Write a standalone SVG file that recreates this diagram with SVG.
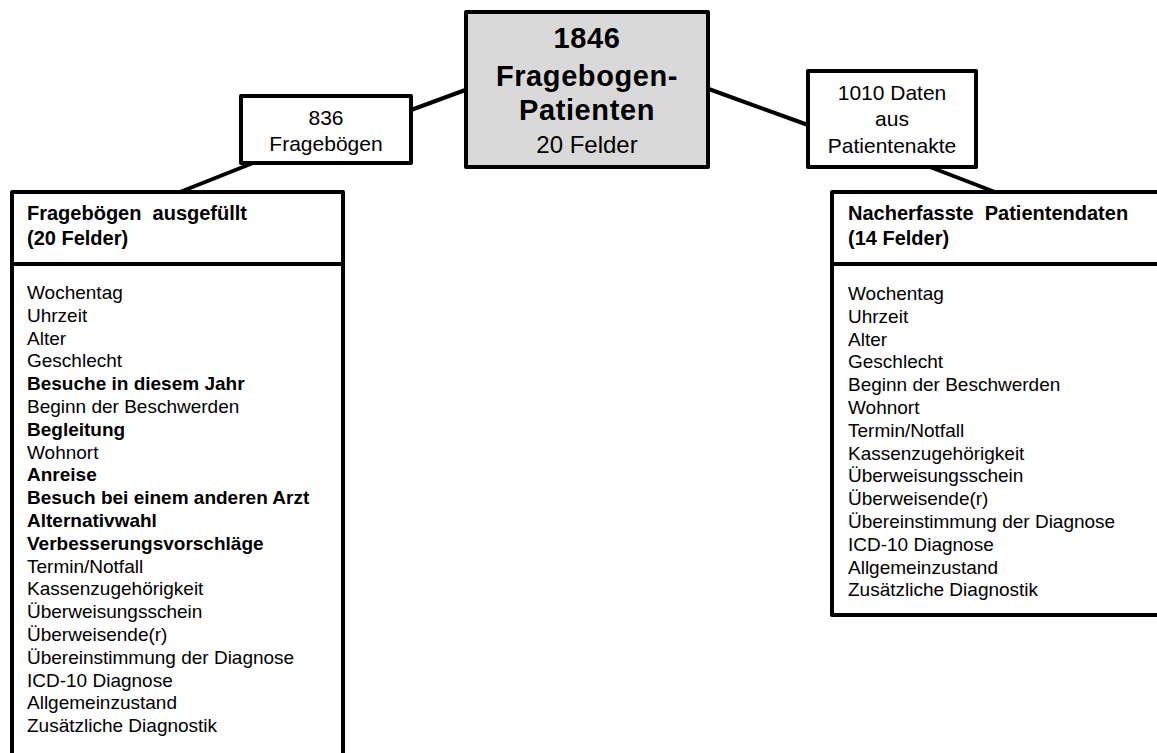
<svg xmlns="http://www.w3.org/2000/svg" width="1157" height="753" viewBox="0 0 1157 753">
<style>
.box{fill:#fff;stroke:#000;stroke-width:4;stroke-linejoin:round}
.grey{fill:#d9d9d9}
.conn line{stroke:#000;stroke-width:4;stroke-linecap:butt}
text{font-family:"Liberation Sans",Arial,sans-serif;fill:#000}
.c{text-anchor:middle}
.b{font-weight:bold}
.hd{font-size:20px;font-weight:bold}
.li{font-size:19px}
.sm{font-size:21px}
.big{font-size:29px;font-weight:bold;letter-spacing:0.6px}
</style>
<rect width="1157" height="753" fill="#fff"/>
<g id="connectors" class="conn">
<line x1="411" y1="110" x2="468" y2="89"/>
<line x1="253" y1="163" x2="180" y2="192"/>
<line x1="706" y1="88" x2="808" y2="125"/>
<line x1="930" y1="167" x2="995" y2="192"/>
</g>
<g id="center">
<rect class="box grey" x="466" y="12" width="242" height="155"/>
<text class="c big" x="587" y="48">1846</text>
<text class="c big" x="587" y="86">Fragebogen-</text>
<text class="c big" x="587" y="120">Patienten</text>
<text class="c" x="587" y="153" font-size="24">20 Felder</text>
</g>
<g id="n836">
<rect class="box" x="241" y="96" width="170" height="67"/>
<text class="c sm" x="326" y="125">836</text>
<text class="c sm" x="326" y="151">Fragebögen</text>
</g>
<g id="n1010">
<rect class="box" x="808" y="71" width="168" height="96"/>
<text class="c sm" x="892" y="100">1010 Daten</text>
<text class="c sm" x="892" y="126">aus</text>
<text class="c sm" x="892" y="153">Patientenakte</text>
</g>
<g id="left">
<rect class="box" x="12" y="192" width="331" height="580"/>
<line x1="12" y1="264" x2="343" y2="264" stroke="#000" stroke-width="4"/>
<text class="hd" x="27" y="220">Fragebögen&#160; ausgefüllt</text>
<text class="hd" x="27" y="245">(20 Felder)</text>
<g class="li">
<text x="27" y="299">Wochentag</text>
<text x="27" y="321.8">Uhrzeit</text>
<text x="27" y="344.6">Alter</text>
<text x="27" y="367.4">Geschlecht</text>
<text x="27" y="390.2" class="b">Besuche in diesem Jahr</text>
<text x="27" y="413">Beginn der Beschwerden</text>
<text x="27" y="435.8" class="b">Begleitung</text>
<text x="27" y="458.6">Wohnort</text>
<text x="27" y="481.4" class="b">Anreise</text>
<text x="27" y="504.2" class="b">Besuch bei einem anderen Arzt</text>
<text x="27" y="527" class="b">Alternativwahl</text>
<text x="27" y="549.8" class="b">Verbesserungsvorschläge</text>
<text x="27" y="572.6">Termin/Notfall</text>
<text x="27" y="595.4">Kassenzugehörigkeit</text>
<text x="27" y="618.2">Überweisungsschein</text>
<text x="27" y="641">Überweisende(r)</text>
<text x="27" y="663.8">Übereinstimmung der Diagnose</text>
<text x="27" y="686.6">ICD-10 Diagnose</text>
<text x="27" y="709.4">Allgemeinzustand</text>
<text x="27" y="732.2">Zusätzliche Diagnostik</text>
</g>
</g>
<g id="right">
<rect class="box" x="832" y="192" width="340" height="423"/>
<line x1="832" y1="264" x2="1172" y2="264" stroke="#000" stroke-width="4"/>
<text class="hd" x="848" y="220">Nacherfasste&#160; Patientendaten</text>
<text class="hd" x="848" y="245">(14 Felder)</text>
<g class="li">
<text x="848" y="300">Wochentag</text>
<text x="848" y="322.8">Uhrzeit</text>
<text x="848" y="345.6">Alter</text>
<text x="848" y="368.4">Geschlecht</text>
<text x="848" y="391.2">Beginn der Beschwerden</text>
<text x="848" y="414">Wohnort</text>
<text x="848" y="436.8">Termin/Notfall</text>
<text x="848" y="459.6">Kassenzugehörigkeit</text>
<text x="848" y="482.4">Überweisungsschein</text>
<text x="848" y="505.2">Überweisende(r)</text>
<text x="848" y="528">Übereinstimmung der Diagnose</text>
<text x="848" y="550.8">ICD-10 Diagnose</text>
<text x="848" y="573.6">Allgemeinzustand</text>
<text x="848" y="596.4">Zusätzliche Diagnostik</text>
</g>
</g>
</svg>
